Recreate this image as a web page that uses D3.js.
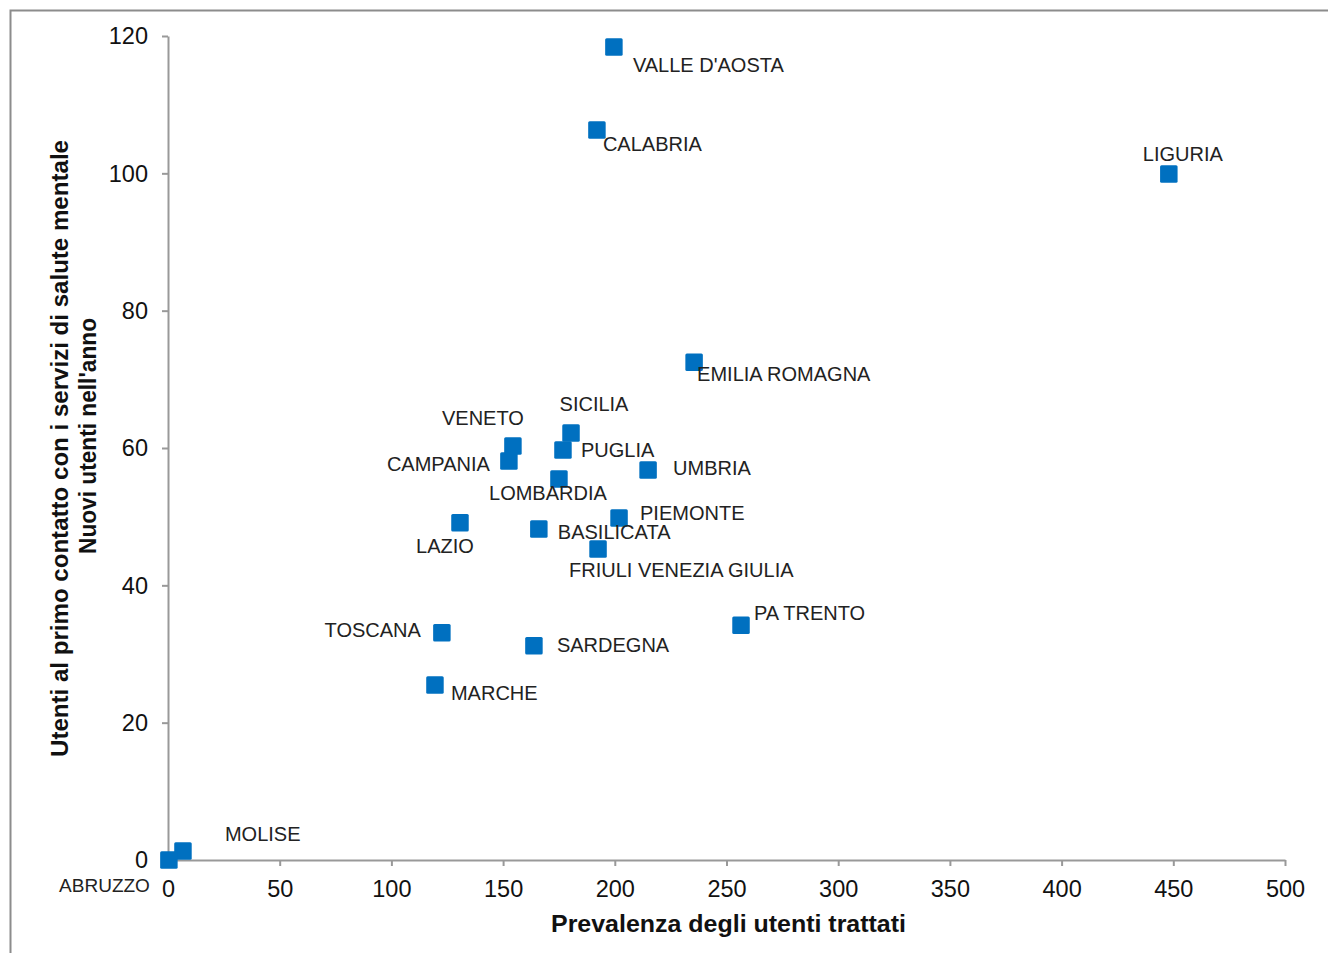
<!DOCTYPE html>
<html><head><meta charset="utf-8">
<script src="https://cdn.jsdelivr.net/npm/d3@7"></script>
<style>
body{margin:0;background:#fff;}
svg{display:block;font-family:Arial,"Liberation Sans",sans-serif;}
</style></head><body>
<svg id="c" width="1328" height="953"></svg>
<script>
const regions = ["VALLE D'AOSTA","CALABRIA","LIGURIA","EMILIA ROMAGNA","SICILIA","VENETO","PUGLIA","CAMPANIA","UMBRIA","LOMBARDIA","PIEMONTE","LAZIO","BASILICATA","FRIULI VENEZIA GIULIA","PA TRENTO","TOSCANA","SARDEGNA","MARCHE","MOLISE","ABRUZZO"];
const prevalenza = [199.6,192,448,235.5,180.4,154.4,176.8,152.6,214.9,175,201.9,130.7,166,192.5,256.5,122.6,163.8,119.5,6.7,0.4];
const nuoviUtenti = [118.4,106.3,99.9,72.5,62.2,60.3,59.7,58.1,56.8,55.5,49.8,49.1,48.2,45.3,34.2,33.1,31.2,25.5,1.3,0];
const xTicks = [0,50,100,150,200,250,300,350,400,450,500];
const yTicks = [0,20,40,60,80,100,120];

// label placement (anchor, dx, dy, font size) – layout only
const labelPlace = {
 "VALLE D'AOSTA":["start",19,18,20],"CALABRIA":["start",6,14,20],"LIGURIA":["middle",14,-20,20],
 "EMILIA ROMAGNA":["start",3,12,20],"SICILIA":["middle",23,-29,20],"VENETO":["middle",-30,-28,20],
 "PUGLIA":["start",18,0,20],"CAMPANIA":["end",-19,3,20],"UMBRIA":["start",25,-2,20],
 "LOMBARDIA":["middle",-11,14,20],"PIEMONTE":["start",21,-5,20],"LAZIO":["middle",-15,23,20],
 "BASILICATA":["start",19,3,20],"FRIULI VENEZIA GIULIA":["start",-29,21,20],"PA TRENTO":["start",13,-12,20],
 "TOSCANA":["end",-21,-3,20],"SARDEGNA":["start",23,-1,20],"MARCHE":["start",16,8,20],
 "MOLISE":["start",42,-17,20],"ABRUZZO":["end",-19,25,19]
};

const svg = d3.select("#c");
svg.append("rect").attr("x",10.5).attr("y",10.5).attr("width",1340).attr("height",960)
  .attr("fill","none").attr("stroke","#8c8c8c").attr("stroke-width",2);

const x = d3.scaleLinear().domain([0,500]).range([168,1285]);
const y = d3.scaleLinear().domain([0,120]).range([860,36]);

const axisCol = "#999";
const gx = svg.append("g").attr("transform","translate(0,860)")
  .call(d3.axisBottom(x).tickValues(xTicks).tickSize(6).tickSizeOuter(0));
const gy = svg.append("g").attr("transform","translate(168,0)")
  .call(d3.axisLeft(y).tickValues(yTicks).tickSize(6).tickSizeOuter(0).tickPadding(14));
[gx,gy].forEach(g=>{
  g.select(".domain").attr("stroke",axisCol).attr("stroke-width",2);
  g.selectAll(".tick line").attr("stroke",axisCol).attr("stroke-width",2);
  g.selectAll(".tick text").attr("fill","#111").style("font-size","23.5px").style("font-family","Arial,'Liberation Sans',sans-serif");
});
gy.selectAll(".tick text").attr("dy","0.33em");
gx.selectAll(".tick text").attr("y",37).attr("dy",0);

const data = regions.map((r,i)=>({r,px:prevalenza[i],py:nuoviUtenti[i]}));
const s = 17.5;
svg.append("g").selectAll("rect").data(data).join("rect")
  .attr("x",d=>x(d.px)-s/2).attr("y",d=>y(d.py)-s/2)
  .attr("width",s).attr("height",s).attr("rx",1.5)
  .attr("fill","#0070C0");

svg.append("g").selectAll("text").data(data).join("text")
  .attr("x",d=>x(d.px)+labelPlace[d.r][1])
  .attr("y",d=>y(d.py)+labelPlace[d.r][2])
  .attr("text-anchor",d=>labelPlace[d.r][0])
  .attr("dy","0.35em")
  .attr("fill","#222").style("font-size",d=>labelPlace[d.r][3]+"px")
  .text(d=>d.r);

function title(txt, tx, ty, rot, len){
  svg.append("text").attr("transform",`translate(${tx},${ty}) rotate(${rot})`)
    .attr("x",-len/2).attr("textLength",len).attr("lengthAdjust","spacingAndGlyphs")
    .style("font-size","23px").style("font-weight","bold").attr("fill","#111")
    .text(txt);
}
title("Prevalenza degli utenti trattati",728.5,932,0,355);
title("Utenti al primo contatto con i servizi di salute mentale",68,448.5,-90,617);
title("Nuovi utenti nell'anno",96,436,-90,236);
</script>
</body></html>
